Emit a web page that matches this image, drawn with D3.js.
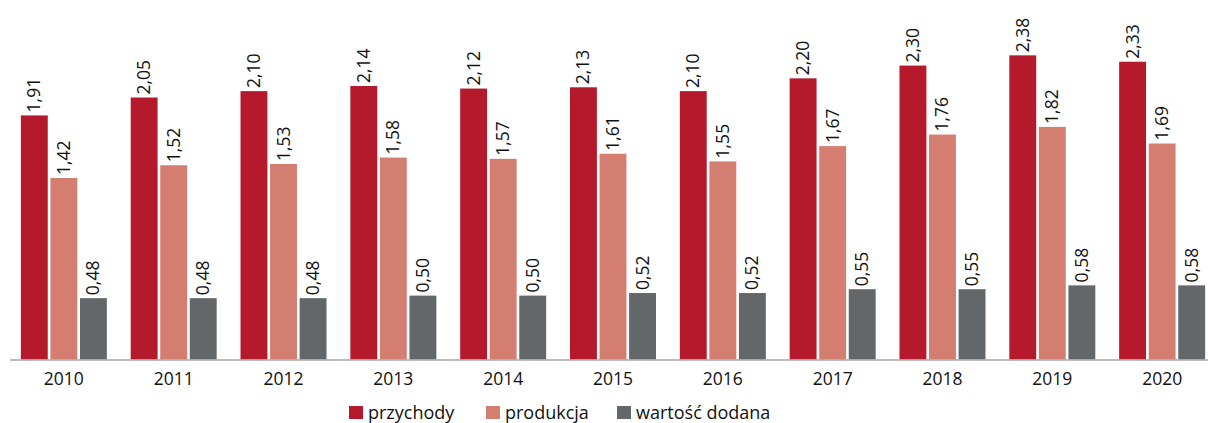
<!DOCTYPE html>
<html>
<head>
<meta charset="utf-8">
<script src="https://cdn.jsdelivr.net/npm/d3@7"></script>
<style>
  body { margin: 0; background: #fff; }
  text { font-family: "Open Sans", "Noto Sans", sans-serif; fill: #111; }
</style>
</head>
<body>
<div id="viz"></div>
<script>
var years = ["2010", "2011", "2012", "2013", "2014", "2015", "2016", "2017", "2018", "2019", "2020"];
var seriesNames = ["przychody", "produkcja", "wartość dodana"];
var przychody = [1.91, 2.05, 2.10, 2.14, 2.12, 2.13, 2.10, 2.20, 2.30, 2.38, 2.33];
var produkcja = [1.42, 1.52, 1.53, 1.58, 1.57, 1.61, 1.55, 1.67, 1.76, 1.82, 1.69];
var wartosc = [0.48, 0.48, 0.48, 0.50, 0.50, 0.52, 0.52, 0.55, 0.55, 0.58, 0.58];
var colors = ["#B4192C", "#D47E72", "#63676A"];

var width = 1208;
var height = 423;
var baseline = 359.5;

var svg = d3.select("#viz")
    .append("svg")
    .attr("width", width)
    .attr("height", height);

var x = d3.scaleBand()
    .domain(years)
    .range([9, 1217])
    .paddingInner(0.217)
    .paddingOuter(0.108);

var x1 = d3.scaleBand()
    .domain(seriesNames)
    .range([0, x.bandwidth()])
    .paddingInner(0.09);

var y = d3.scaleLinear()
    .domain([0, 1])
    .range([baseline, baseline - 127.8]);

var allSeries = [przychody, produkcja, wartosc];
var fmt = function(v) { return v.toFixed(2).replace(".", ","); };

var groups = svg.selectAll("g.year")
    .data(years)
    .enter()
    .append("g")
    .attr("class", "year")
    .attr("transform", function(d) { return "translate(" + x(d) + ",0)"; });

groups.selectAll("rect")
    .data(function(d, i) {
      return seriesNames.map(function(s, j) { return { s: s, v: allSeries[j][i], c: colors[j] }; });
    })
    .enter()
    .append("rect")
    .attr("x", function(d) { return x1(d.s); })
    .attr("y", function(d) { return y(d.v); })
    .attr("width", x1.bandwidth())
    .attr("height", function(d) { return baseline - y(d.v); })
    .attr("fill", function(d) { return d.c; });

groups.selectAll("text.val")
    .data(function(d, i) {
      return seriesNames.map(function(s, j) { return { s: s, v: allSeries[j][i] }; });
    })
    .enter()
    .append("text")
    .attr("class", "val")
    .attr("transform", function(d) {
      return "translate(" + (x1(d.s) + x1.bandwidth() / 2 + 6) + "," + (y(d.v) - 3) + ") rotate(-90)";
    })
    .attr("font-size", 17.5)
    .text(function(d) { return fmt(d.v); });

// axis line
svg.append("line")
    .attr("x1", 10)
    .attr("x2", width)
    .attr("y1", baseline + 0.5)
    .attr("y2", baseline + 0.5)
    .attr("stroke", "#A6A6A6")
    .attr("stroke-width", 1.5);

svg.selectAll("text.year")
    .data(years)
    .enter()
    .append("text")
    .attr("class", "year")
    .attr("x", function(d) { return x(d) + x.bandwidth() / 2; })
    .attr("y", 385)
    .attr("text-anchor", "middle")
    .attr("font-size", 17.5)
    .text(function(d) { return d; });

// legend
var legendX = [349, 486, 617];
var legend = svg.selectAll("g.legend")
    .data(seriesNames)
    .enter()
    .append("g")
    .attr("class", "legend")
    .attr("transform", function(d, i) { return "translate(" + legendX[i] + ",406)"; });

legend.append("rect")
    .attr("width", 14)
    .attr("height", 13)
    .attr("fill", function(d, i) { return colors[i]; });

legend.append("text")
    .attr("x", 19)
    .attr("y", 13)
    .attr("font-size", 18)
    .text(function(d) { return d; });
</script>
</body>
</html>
